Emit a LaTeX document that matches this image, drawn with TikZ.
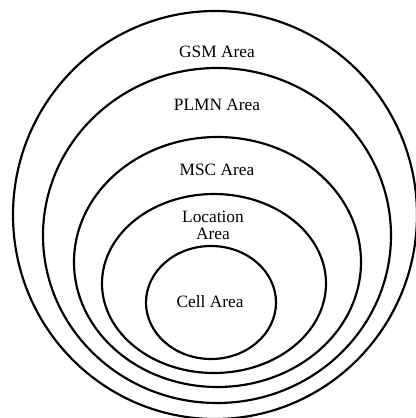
\documentclass[tikz,border=0pt]{standalone}
\usepackage{fontspec}
\setmainfont{Liberation Serif}

\begin{document}
\begin{tikzpicture}[x=0.6pt,y=-0.6pt,
  ring/.style={draw,line width=1.3pt},
  lbl/.style={align=center,inner sep=1pt,font=\fontsize{10.4}{10.2}\selectfont}]
  \useasboundingbox (0,0) rectangle (416,418);
  % nested areas, outermost first
  \draw[ring] (215,215) ellipse [x radius=202,y radius=204];
  \draw[ring] (217,235.5) ellipse [x radius=174,y radius=167.5];
  \draw[ring] (217.5,262) ellipse [x radius=143.5,y radius=125];
  \draw[ring] (214,283.5) ellipse [x radius=112,y radius=89.5];
  \draw[ring] (211,302.5) ellipse [x radius=65,y radius=56.5];
  \node[lbl] (gsm) at (217,52) {GSM Area};
  \node[lbl] (plmn) at (217,105) {PLMN Area};
  \node[lbl] (msc) at (217,170) {MSC Area};
  \node[lbl] (loc) at (213,225.5) {Location\\Area};
  \node[lbl] (cell) at (210,302) {Cell Area};
\end{tikzpicture}
\end{document}
